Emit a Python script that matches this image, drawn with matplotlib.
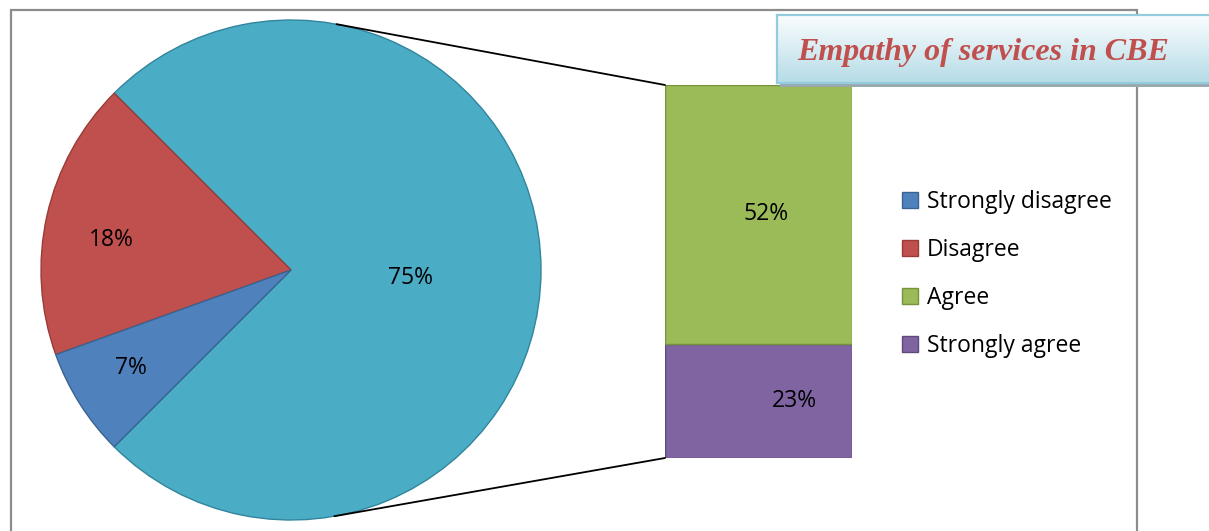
import numpy as np
import matplotlib.pyplot as plt
from matplotlib.patches import Rectangle, Patch, ConnectionPatch
from matplotlib.colors import LinearSegmentedColormap

# survey answers
categories = ["Strongly disagree", "Disagree", "Agree", "Strongly agree"]
shares = [7, 18, 52, 23]
colors = ["#4f81bd", "#c0504d", "#9bbb59", "#8064a2"]
edge_colors = ["#3a6391", "#9a3b38", "#76923c", "#5f4a7b"]
other_color = "#4bacc6"
other_edge = "#31859c"
title = "Empathy of services in CBE"

W, H = 1209, 531
fig = plt.figure(figsize=(W / 100, H / 100), dpi=100)
plt.rcParams["font.family"] = ["Open Sans", "DejaVu Sans"]
FS = 16.5


def px_box(x0, y0, x1, y1):
    # pixel box measured from the top-left -> figure fraction rect
    return [x0 / W, 1 - y1 / H, (x1 - x0) / W, (y1 - y0) / H]


# outer chart frame (runs off the bottom edge)
fx, fy, fw, fh = px_box(11, 10, 1137, 560)
fig.add_artist(Rectangle((fx, fy), fw, fh, transform=fig.transFigure,
                         fill=False, ec="#8c8c8c", lw=1.6, zorder=-1))

# main pie: agree + strongly agree are grouped into one wedge
pie_vals = [shares[2] + shares[3], shares[1], shares[0]]
pie_cols = [other_color, colors[1], colors[0]]
pie_edges = [other_edge, edge_colors[1], edge_colors[0]]
label_r = [0.48, 0.73, 0.75]
label_rot = [-4, 3, -1]  # small angular nudge of each label, degrees

pie_ax = fig.add_axes(px_box(41, 20, 541, 520))
wedges, _ = pie_ax.pie(pie_vals, colors=pie_cols, startangle=-135,
                       counterclock=True, radius=1,
                       wedgeprops=dict(linewidth=1.0))
for w, ec, r, dr, v in zip(wedges, pie_edges, label_r, label_rot, pie_vals):
    w.set_edgecolor(ec)
    mid = np.deg2rad((w.theta1 + w.theta2) / 2 + dr)
    pie_ax.text(r * np.cos(mid), r * np.sin(mid), f"{v}%",
                ha="center", va="center", fontsize=FS, color="black")
pie_ax.set_xlim(-1, 1)
pie_ax.set_ylim(-1, 1)

# stacked bar breaking down the grouped wedge
bar_ax = fig.add_axes(px_box(665, 85, 852, 458))
bar_ax.bar(0, shares[3], width=1, color=colors[3], edgecolor=edge_colors[3], lw=1.0)
bar_ax.bar(0, shares[2], bottom=shares[3], width=1, color=colors[2],
           edgecolor=edge_colors[2], lw=1.0)
bar_ax.set_xlim(-0.5, 0.5)
bar_ax.set_ylim(0, shares[2] + shares[3])
bar_ax.axis("off")
bar_ax.text(0.04, shares[3] + shares[2] / 2, f"{shares[2]}%",
            ha="center", va="center", fontsize=FS)
bar_ax.text(0.19, shares[3] / 2, f"{shares[3]}%",
            ha="center", va="center", fontsize=FS)


def tangent_point(pt, upper):
    # point where a line from the bar corner touches the pie circle
    disp = bar_ax.transData.transform(pt)
    px, py = pie_ax.transData.inverted().transform(disp)
    d = np.hypot(px, py)
    phi = np.arctan2(py, px)
    a = np.arccos(1 / d)
    t = phi + a if upper else phi - a
    return np.cos(t), np.sin(t)


total = shares[2] + shares[3]
for corner, upper in [((-0.5, total), True), ((-0.5, 0), False)]:
    con = ConnectionPatch(xyA=corner, coordsA=bar_ax.transData,
                          xyB=tangent_point(corner, upper), coordsB=pie_ax.transData,
                          color="black", lw=1.3)
    fig.add_artist(con)

# legend
handles = [Patch(facecolor=c, edgecolor=e, lw=1.0) for c, e in zip(colors, edge_colors)]
fig.legend(handles, categories, loc="upper left", bbox_to_anchor=(902 / W, 1 - 190 / H),
           frameon=False, fontsize=FS, handlelength=0.7, handleheight=0.7,
           handletextpad=0.4, labelspacing=1.05, borderpad=0, borderaxespad=0)

# title box with shadow and a light gradient
sx, sy, sw, sh = px_box(780, 19, 1220, 87)
fig.add_artist(Rectangle((sx, sy), sw, sh, transform=fig.transFigure,
                         color="#9aa9ae", lw=0, zorder=2))
t_ax = fig.add_axes(px_box(777, 15, 1220, 83))
t_ax.set_zorder(3)
grad = np.linspace(0, 1, 64).reshape(-1, 1)
cmap = LinearSegmentedColormap.from_list("tbox", ["#fafdfe", "#b5dce7"])
t_ax.imshow(grad, cmap=cmap, aspect="auto", extent=(0, 1, 1, 0))
t_ax.set_xlim(0, 1)
t_ax.set_ylim(1, 0)
t_ax.set_xticks([])
t_ax.set_yticks([])
for s in t_ax.spines.values():
    s.set_color("#93cddd")
    s.set_linewidth(1.6)
t_ax.text(20 / 443, 0.45, title, transform=t_ax.transAxes, ha="left", va="center",
          fontsize=23, fontweight="bold", fontstyle="italic",
          family="Liberation Serif", color="#c0504d")

fig.savefig("out.png", dpi=100)
